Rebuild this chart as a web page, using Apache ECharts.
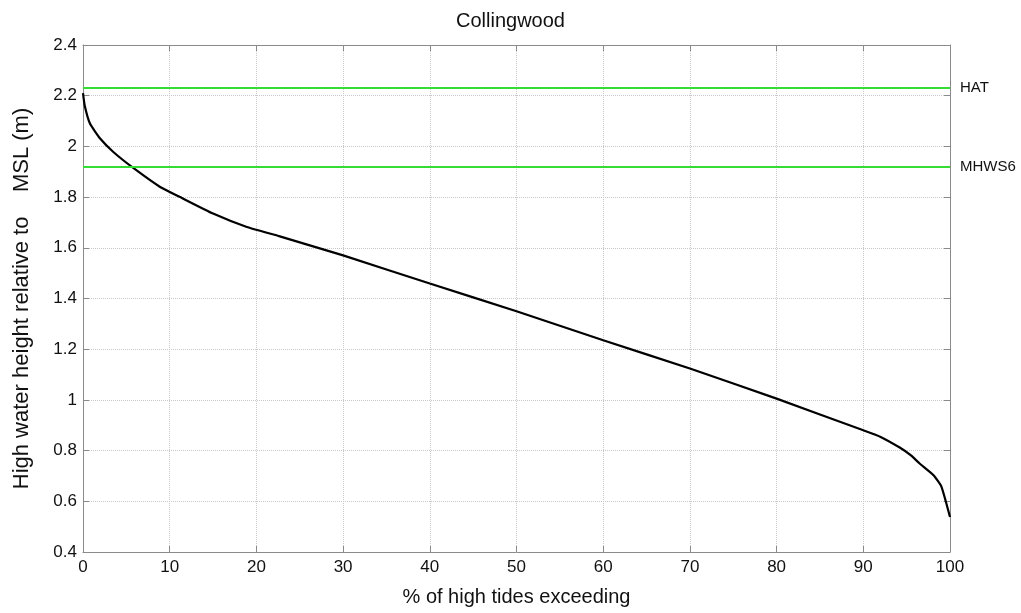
<!DOCTYPE html>
<html>
<head>
<meta charset="utf-8">
<script src="https://cdn.jsdelivr.net/npm/echarts@6/dist/echarts.min.js"></script>
<style>
  html, body { margin: 0; padding: 0; background: #fff; }
  #chart { width: 1021px; height: 613px; }
</style>
</head>
<body>
<div id="chart"></div>
<script>
// % of high tides exceeding vs. high water height (m, rel. MSL)
const exceedPct = [0, 0.2, 0.8, 2, 3.5, 5.8, 8.9, 11.2, 15, 18.9, 22.7, 30, 40, 50, 60, 70, 80, 90, 92, 94.2, 95.5, 96.5, 98.1, 99, 100];
const heightM   = [2.21, 2.16, 2.09, 2.03, 1.978, 1.915, 1.84, 1.80, 1.735, 1.682, 1.645, 1.570, 1.459, 1.350, 1.235, 1.124, 1.005, 0.88, 0.854, 0.812, 0.781, 0.749, 0.703, 0.659, 0.538];

// reference levels
const levelNames = ['HAT', 'MHWS6'];
const levelValues = [2.234, 1.916];

const chart = echarts.init(document.getElementById('chart'));
const font = 'Liberation Sans, Arial, sans-serif';
const axisGray = '#8a8a8a';

const curve = exceedPct.map((x, i) => [x, heightM[i]]);

const baseX = {
  type: 'value', min: 0, max: 100, interval: 10,
  axisLine: { show: true, onZero: false, lineStyle: { color: axisGray, width: 1 } },
  axisTick: { show: true, inside: true, length: 6, lineStyle: { color: axisGray } },
  splitLine: { show: false }
};
const baseY = {
  type: 'value', min: 0.4, max: 2.4, interval: 0.2,
  axisLine: { show: true, onZero: false, lineStyle: { color: axisGray, width: 1 } },
  axisTick: { show: true, inside: true, length: 6, lineStyle: { color: axisGray } },
  splitLine: { show: false }
};

chart.setOption({
  animation: false,
  backgroundColor: '#fff',
  title: {
    text: 'Collingwood', left: 'center', top: 6,
    textStyle: { fontFamily: font, fontSize: 20, fontWeight: 'normal', color: '#111' }
  },
  grid: { left: 83, right: 71, top: 45, bottom: 61 },
  xAxis: [
    Object.assign({}, baseX, {
      position: 'bottom',
      name: '% of high tides exceeding', nameLocation: 'middle', nameGap: 35,
      nameTextStyle: { fontFamily: font, fontSize: 20, color: '#111' },
      axisLabel: { fontFamily: font, fontSize: 17, color: '#111', margin: 7 },
      splitLine: { show: true, lineStyle: { color: '#c8c8c8', type: 'dotted', width: 1 } }
    }),
    Object.assign({}, baseX, { position: 'top', axisLabel: { show: false } })
  ],
  yAxis: [
    Object.assign({}, baseY, {
      position: 'left',
      name: 'High water height relative to    MSL (m)', nameLocation: 'middle', nameGap: 50,
      nameTextStyle: { fontFamily: font, fontSize: 22, color: '#111' },
      axisLabel: { fontFamily: font, fontSize: 17, color: '#111', margin: 6,
        formatter: v => String(Math.round(v * 10) / 10) },
      splitLine: { show: true, lineStyle: { color: '#c8c8c8', type: 'dotted', width: 1 } }
    }),
    Object.assign({}, baseY, { position: 'right', axisLabel: { show: false } })
  ],
  series: [{
    type: 'line',
    data: curve,
    showSymbol: false,
    smooth: 0.15,
    lineStyle: { color: '#000', width: 2.2 },
    markLine: {
      symbol: 'none',
      silent: true,
      lineStyle: { color: '#33dd33', width: 2.2, type: 'solid' },
      label: {
        show: true, position: 'end', distance: 10,
        fontFamily: font, fontSize: 15, color: '#111',
        formatter: p => p.name
      },
      data: levelValues.map((v, i) => ({ name: levelNames[i], yAxis: v }))
    }
  }]
});
</script>
</body>
</html>
